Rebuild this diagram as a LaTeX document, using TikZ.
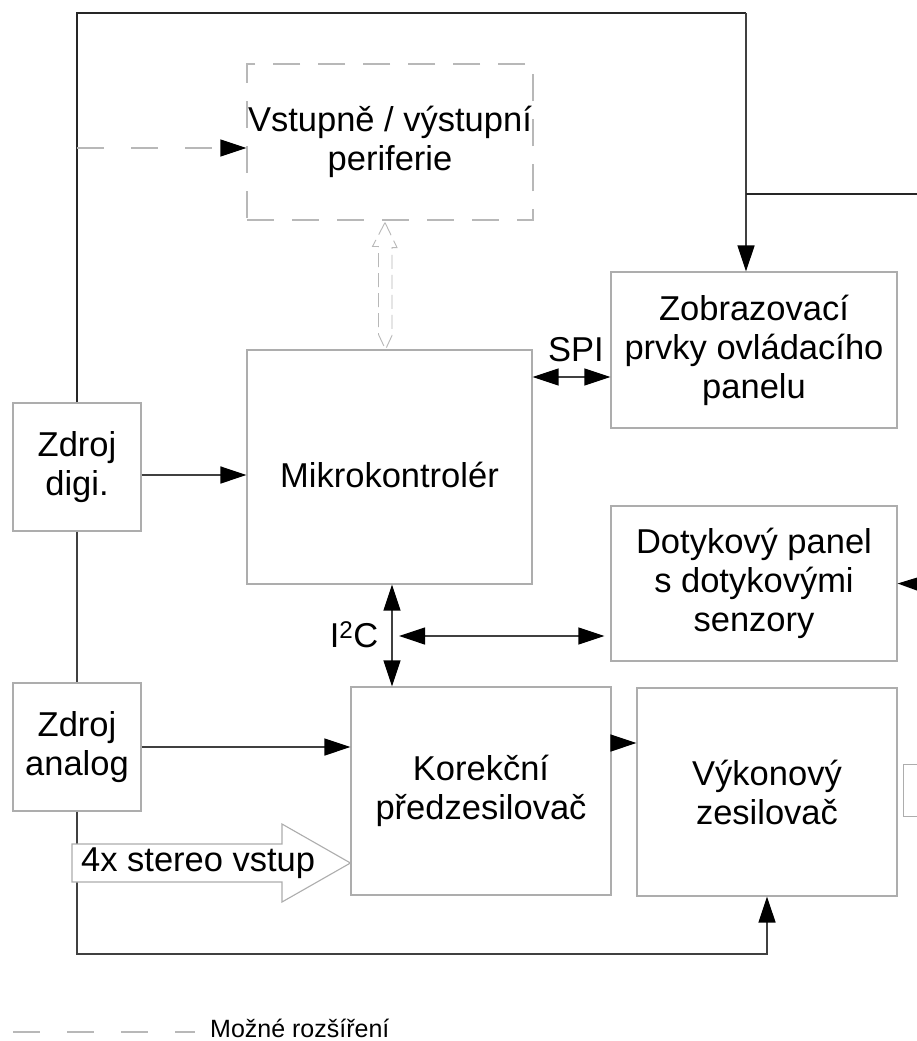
\documentclass[tikz,border=0pt]{standalone}
\usepackage{fontspec}
\setmainfont{Liberation Sans}
\usetikzlibrary{arrows.meta,calc}
\definecolor{boxcol}{gray}{0.68}
\definecolor{linecol}{gray}{0.25}
\definecolor{dashcol}{gray}{0.72}
\tikzset{
  blk/.style={draw=boxcol, line width=1.1pt, align=center, inner sep=0pt,
    font=\fontsize{34.5}{39}\selectfont},
  conn/.style={draw=linecol, line width=1.4pt},
  tipA/.style={-{Triangle[length=26pt,width=17pt,color=black]}},
  tipAB/.style={{Triangle[length=26pt,width=17pt,color=black]}-{Triangle[length=26pt,width=17pt,color=black]}},
  ext/.style={draw=dashcol, line width=1.1pt, dash pattern=on 27pt off 27pt},
  lbl/.style={inner sep=0pt, font=\fontsize{34.5}{39}\selectfont},
}
\begin{document}
\begin{tikzpicture}[x=1pt,y=-1pt]
\useasboundingbox (0,0) rectangle (917,1041);
\fill[white] (0,0) rectangle (917,1041);

% blocks
\node[blk, minimum width=128pt, minimum height=128pt] (dig) at (77,467) {Zdroj\\digi.};
\node[blk, minimum width=128pt, minimum height=128pt] (ana) at (77,747) {Zdroj\\analog};
\node[blk, draw=dashcol, dash pattern=on 27pt off 18pt, minimum width=286pt, minimum height=156pt] (per) at (390,142) {Vstupně / výstupní\\periferie};
\node[blk, minimum width=285pt, minimum height=234pt] (mcu) at (389.5,467) {\raisebox{-8pt}[\height][\depth]{Mikrokontrolér}};
\node[blk, minimum width=286pt, minimum height=156pt] (zob) at (754,350) {Zobrazovací\\prvky ovládacího\\panelu};
\node[blk, minimum width=286pt, minimum height=155pt] (dot) at (754,583.5) {Dotykový panel\\s dotykovými\\senzory};
\node[blk, minimum width=260pt, minimum height=208pt] (kor) at (481,791) {Korekční\\předzesilovač};
\node[blk, minimum width=260pt, minimum height=208pt] (vyk) at (767,792) {Výkonový\\ zesilovač};
\node[blk, minimum width=40pt, minimum height=52pt, anchor=north west] (part) at (903,764) {};

% coordinates
\coordinate (tr) at (746,13);
\coordinate (j1) at (746,194);
\coordinate (e1) at (917,194);
\coordinate (e2) at (917,584);
\coordinate (ih) at (392,636);
\coordinate (bl) at (767,954);
\coordinate (kv) at (624,743);

% power lines
\draw[conn, draw=black!85] (dig.north) |- (tr);
\draw[conn, tipA] (tr) -- (tr |- zob.north);
\draw[conn, draw=black!85] (j1) -- (e1);
\draw[conn] (dig.south) -- (ana.north);
\draw[conn, tipA] ($(dig.east)+(0,8)$) -- ($(mcu.west)+(0,8)$);
\draw[conn, tipA] (ana.east) -- (kor.west |- ana.east);
\draw[conn, tipA] (ana.south) |- (bl) -- (vyk.south);

% buses
\draw[conn, line width=1.2pt, tipAB] (mcu.east |- 0,377) -- (zob.west |- 0,377);
\node[lbl] (spi) at (576,350) {SPI};
\draw[conn, tipA] (e2) -- (dot.east);
\draw[conn, line width=1.2pt, tipAB] (mcu.south -| ih) -- (ih |- kor.north);
\draw[conn, line width=1.2pt, tipAB] ($(ih)+(7,0)$) -- ($(dot.west |- ih)+(-6,0)$);
\node[lbl] (i2c) at (354,635) {I\textsuperscript{2}C};
\draw[conn, tipA] (kor.east |- kv) -- (vyk.west |- kv);

% optional extension
\draw[ext, -{Triangle[length=26pt,width=17pt,color=black]}] (dig.north |- 0,148) -- (per.west |- 0,148);
\draw[draw=dashcol, line width=0.9pt, dash pattern=on 14pt off 6pt]
  ($(per.south)+(-5,2)$) -- ++(12,25) -- ++(-5,0) -- ++(0,88) -- ($(mcu.north)+(-4,0)$)
  -- ++(-7,-15) -- ++(0,-88) -- ++(-6,0) -- cycle;

% stereo input arrow
\draw[draw=boxcol, fill=white, line width=1.1pt]
  (72,844) -- (282,844) -- (282,824) -- (kor.west |- 0,863) -- (282,902) -- (282,882) -- (72,882) -- cycle;
\node[lbl, anchor=west] (sv) at (81,863) {4x stereo vstup};

% legend
\draw[ext] (13,1032) -- (195,1032);
\node[inner sep=0pt, anchor=base west, font=\fontsize{25}{30}\selectfont] (leg) at (210,1037) {Možné rozšíření};
\end{tikzpicture}
\end{document}
